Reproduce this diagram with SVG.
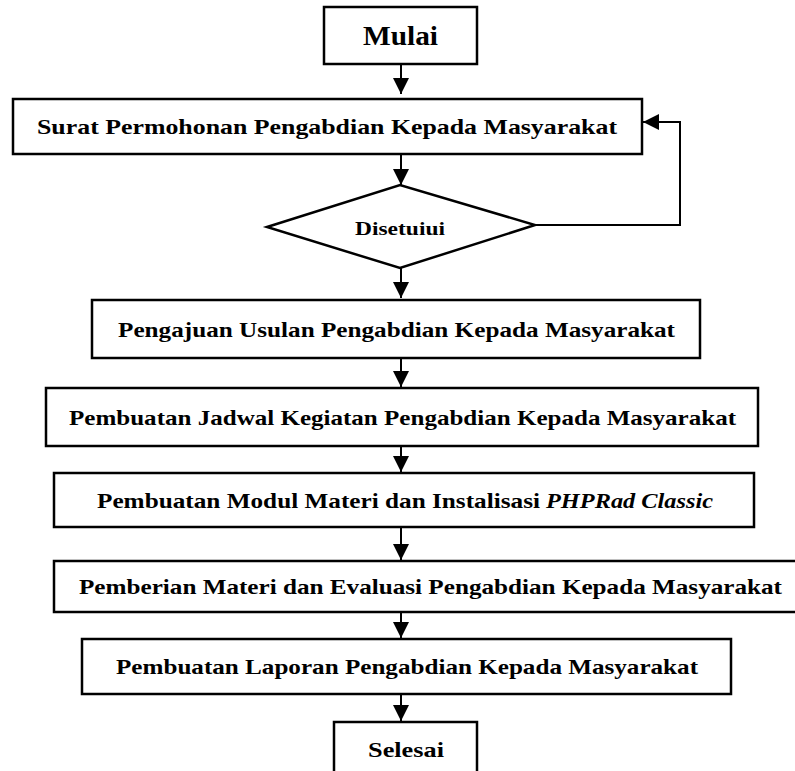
<svg xmlns="http://www.w3.org/2000/svg" width="795" height="771" viewBox="0 0 795 771">
<style>
.box{fill:#fff;stroke:#000;stroke-width:2.5}
.lbl{font-family:"Liberation Serif","DejaVu Serif",serif;font-weight:bold;font-size:22px;fill:#000}
.conn{fill:none;stroke:#000;stroke-width:2}
</style>
<defs>
<marker id="ah" viewBox="0 0 16 16" refX="16" refY="8" markerWidth="16" markerHeight="16" markerUnits="userSpaceOnUse" orient="auto">
<path d="M0,0 L16,8 L0,16 Z" fill="#000"/>
</marker>
</defs>
<rect width="795" height="771" fill="#fff"/>
<g id="connectors">
<line class="conn" x1="401" y1="64" x2="401" y2="94" marker-end="url(#ah)"/>
<line class="conn" x1="401" y1="154" x2="401" y2="185" marker-end="url(#ah)"/>
<line class="conn" x1="401" y1="268" x2="401" y2="298" marker-end="url(#ah)"/>
<line class="conn" x1="401" y1="358" x2="401" y2="387" marker-end="url(#ah)"/>
<line class="conn" x1="401" y1="446" x2="401" y2="472" marker-end="url(#ah)"/>
<line class="conn" x1="401" y1="527" x2="401" y2="560" marker-end="url(#ah)"/>
<line class="conn" x1="401" y1="612" x2="401" y2="638" marker-end="url(#ah)"/>
<line class="conn" x1="401" y1="694" x2="401" y2="721" marker-end="url(#ah)"/>
<polyline class="conn" points="535,225 680,225 680,122 643,122" marker-end="url(#ah)"/>
</g>
<g id="mulai">
<rect class="box" x="324" y="7" width="153" height="57"/>
<text class="lbl" x="363" y="45" style="font-size:27px" textLength="75" lengthAdjust="spacingAndGlyphs">Mulai</text>
</g>
<g id="surat">
<rect class="box" x="13" y="99" width="629" height="55"/>
<text class="lbl" x="37" y="134" textLength="580" lengthAdjust="spacingAndGlyphs">Surat Permohonan Pengabdian Kepada Masyarakat</text>
</g>
<g id="disetujui">
<polygon class="box" points="267,227 400,185 535,225 400,268"/>
<text class="lbl" x="355" y="235" style="font-size:18px" textLength="90" lengthAdjust="spacingAndGlyphs">Disetuiui</text>
</g>
<g id="pengajuan">
<rect class="box" x="92" y="300" width="608" height="58"/>
<text class="lbl" x="118" y="337" textLength="557" lengthAdjust="spacingAndGlyphs">Pengajuan Usulan Pengabdian Kepada Masyarakat</text>
</g>
<g id="jadwal">
<rect class="box" x="46" y="388" width="712" height="58"/>
<text class="lbl" x="69" y="425" textLength="667" lengthAdjust="spacingAndGlyphs">Pembuatan Jadwal Kegiatan Pengabdian Kepada Masyarakat</text>
</g>
<g id="modul">
<rect class="box" x="54" y="473" width="700" height="54"/>
<text class="lbl" x="97" y="508" textLength="443" lengthAdjust="spacingAndGlyphs">Pembuatan Modul Materi dan Instalisasi</text>
<text class="lbl" x="546" y="508" font-style="italic" textLength="167" lengthAdjust="spacingAndGlyphs">PHPRad Classic</text>
</g>
<g id="pemberian">
<rect class="box" x="54" y="561" width="750" height="51"/>
<text class="lbl" x="79" y="594" textLength="703" lengthAdjust="spacingAndGlyphs">Pemberian Materi dan Evaluasi Pengabdian Kepada Masyarakat</text>
</g>
<g id="laporan">
<rect class="box" x="82" y="639" width="649" height="55"/>
<text class="lbl" x="116" y="674" textLength="582" lengthAdjust="spacingAndGlyphs">Pembuatan Laporan Pengabdian Kepada Masyarakat</text>
</g>
<g id="selesai">
<rect class="box" x="334" y="722" width="143" height="60"/>
<text class="lbl" x="368" y="757" textLength="76" lengthAdjust="spacingAndGlyphs">Selesai</text>
</g>
</svg>
